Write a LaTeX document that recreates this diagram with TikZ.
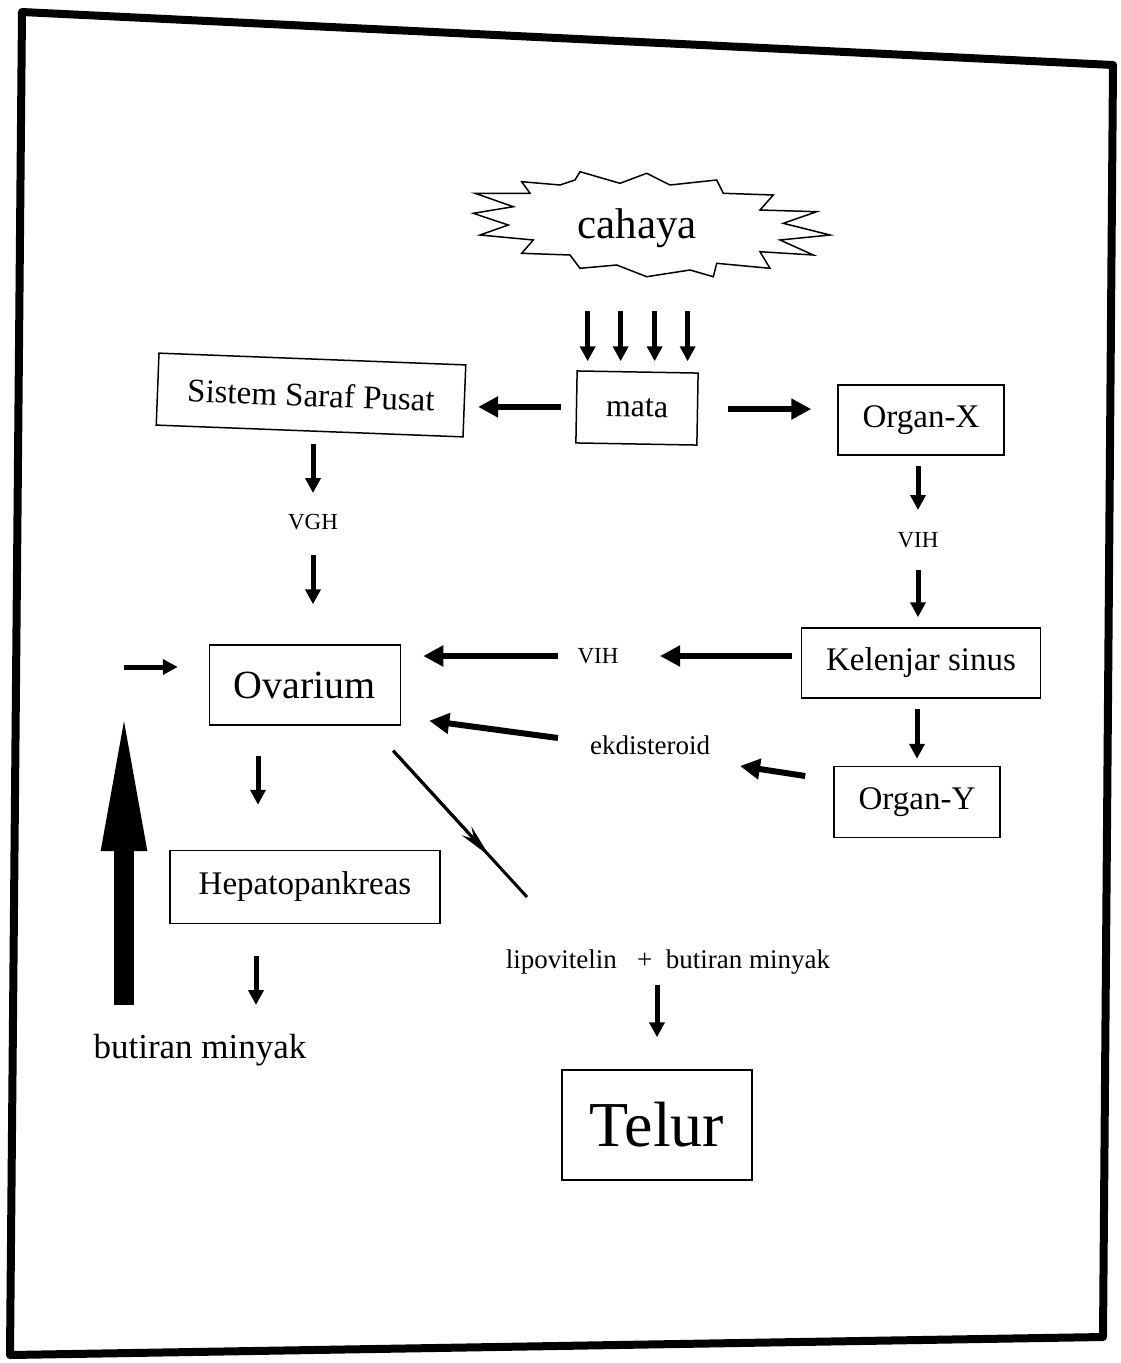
\documentclass[tikz,border=0pt]{standalone}
\usepackage{fontspec}
\setmainfont{Liberation Serif}
\usetikzlibrary{arrows.meta,calc}
\tikzset{
  box/.style={draw, line width=1.5pt, inner sep=0pt, font=\fontsize{33}{35}\selectfont},
  lbl/.style={inner sep=0pt, font=\fontsize{23}{25}\selectfont},
  arr/.style={line width=6pt, -{Triangle[length=20pt,width=20pt]}},
  arrs/.style={line width=5pt, -{Triangle[length=15pt,width=15pt]}},
}
\begin{document}
\begin{tikzpicture}[x=1pt,y=-1pt]
\useasboundingbox (0,0) rectangle (1120,1363);
% frame
\draw[line width=8pt, line join=round] (22,12) -- (1113,65) -- (1103,1337) -- (10,1355) -- cycle;
% starburst
\draw[line width=1.5pt, line join=miter]
 (521.7,181.7) -- (560,185) -- (575,180) -- (580,171.7) -- (620,183.3) -- (646.7,173.3)
 -- (670,185) -- (716.7,180) -- (723.3,193.3) -- (773.3,195) -- (760,210) -- (816.7,211.7)
 -- (783.3,223.3) -- (830,235) -- (780,240) -- (813.3,255) -- (760,251.7) -- (770,268.3)
 -- (716.7,263.3) -- (713.3,276.7) -- (690,270) -- (646.7,276.7) -- (616.7,265)
 -- (580,268.3) -- (570,255) -- (521.7,253.3) -- (533.3,240) -- (480,235) -- (508.3,225)
 -- (473.3,213.3) -- (513.3,206.7) -- (475,193.3) -- (530,193.3) -- cycle;
\node[inner sep=0pt, font=\fontsize{43}{45}\selectfont] (cahaya) at (637,228) {cahaya};
% boxes
\node[box, minimum width=307pt, minimum height=72pt, rotate=-2.2] (ssp) at (311,395) {Sistem Saraf Pusat};
\node[box, minimum width=121pt, minimum height=72pt, rotate=-1, font=\fontsize{32}{34}\selectfont] (mata) at (637,408) {mata};
\node[box, minimum width=166pt, minimum height=70pt] (ox) at (921,420) {Organ-X};
\node[box, minimum width=191pt, minimum height=80pt, font=\fontsize{40}{42}\selectfont] (ov) at (305,685) {Ovarium};
\node[box, minimum width=239pt, minimum height=70pt] (kel) at (921,663) {Kelenjar sinus};
\node[box, minimum width=166pt, minimum height=71pt] (oy) at (917,802) {Organ-Y};
\node[box, minimum width=270pt, minimum height=73pt] (hep) at (305,887) {Hepatopankreas};
\node[box, minimum width=190pt, minimum height=110pt, font=\fontsize{64}{66}\selectfont] (telur) at (657,1125) {Telur};
% labels
\node[lbl] (vgh) at (313,522) {VGH};
\node[lbl] (vih1) at (918,540) {VIH};
\node[lbl] (vih2) at (598,656) {VIH};
\node[lbl, font=\fontsize{27}{29}\selectfont] (ekd) at (650,745) {ekdisteroid};
\node[lbl, font=\fontsize{27}{29}\selectfont] (lip) at (668,962) {lipovitelin \ \ + \ butiran minyak};
\node[inner sep=0pt, font=\fontsize{35}{37}\selectfont] (btm) at (200,1050) {butiran minyak};
% light arrows
\foreach \dx in {-50,-17,17,50}
  \draw[arrs] ([xshift=\dx pt,yshift=60pt]mata.north) -- ([xshift=\dx pt,yshift=10pt]mata.north);
% mata arrows
\draw[arr, shorten <=15pt, shorten >=13pt] (mata.west) -- (mata.west -| ssp.east);
\draw[arr, shorten <=30pt, shorten >=26pt] (mata.east) -- (mata.east -| ox.west);
% left chain
\draw[arrs, shorten <=12pt, shorten >=29pt] (vgh.center |- ssp.south) -- (vgh.center);
\draw[arrs, shorten <=33pt, shorten >=40pt] (vgh.center) -- (vgh.center |- ov.north);
% right chain
\draw[arrs, shorten <=10pt, shorten >=30pt] (vih1.center |- ox.south) -- (vih1.center);
\draw[arrs, shorten <=30pt, shorten >=10pt] (vih1.center) -- (vih1.center |- kel.north);
\draw[arrs, shorten <=10pt, shorten >=7pt] (oy.north |- kel.south) -- (oy.north);
% VIH to ovarium
\draw[arr, shorten <=9pt, shorten >=62pt] (kel.west |- vih2.center) -- (vih2.center);
\draw[arr, shorten <=40pt, shorten >=22pt] (vih2.center) -- (ov.east |- vih2.center);
% ekdisteroid
\draw[arr] ([xshift=-28pt,yshift=26pt]oy.west) -- ([xshift=90pt,yshift=-21pt]ekd.center);
\draw[arr] ([xshift=-92pt,yshift=7pt]ekd.center) -- ([xshift=28pt,yshift=5pt]ov.south east);
% diagonal
\coordinate (diagend) at (527,897);
\draw[line width=3pt] ([xshift=-8pt,yshift=-25pt]ov.south east) -- (diagend);
\draw[line width=3pt, -{Stealth[length=34pt,width=13pt]}] ([xshift=-8pt,yshift=-25pt]ov.south east) -- ($([xshift=-8pt,yshift=-25pt]ov.south east)!0.72!(diagend)$);
% ovarium to hepato
\draw[arrs, shorten <=30pt, shorten >=45pt] ([xshift=-47pt]ov.south) -- ([xshift=-47pt]hep.north);
\draw[arrs, shorten <=32pt] ([xshift=-49pt]hep.south) -- ([xshift=56pt,yshift=45pt]btm.center);
% big up arrow
\coordinate (bigtip) at (124,703);
\draw[line width=20pt, -{Triangle[length=148pt,width=40pt]}] ([xshift=-76pt,yshift=45pt]btm.center) -- (bigtip);
% small arrow into ovarium
\coordinate (instart) at (124,667);
\draw[arrs, shorten >=31pt] (instart) -- ([yshift=18pt]ov.west);
% lipovitelin to telur
\draw[arrs, shorten <=23pt, shorten >=32pt] (lip.center -| telur.north) -- (telur.north);
\end{tikzpicture}
\end{document}
